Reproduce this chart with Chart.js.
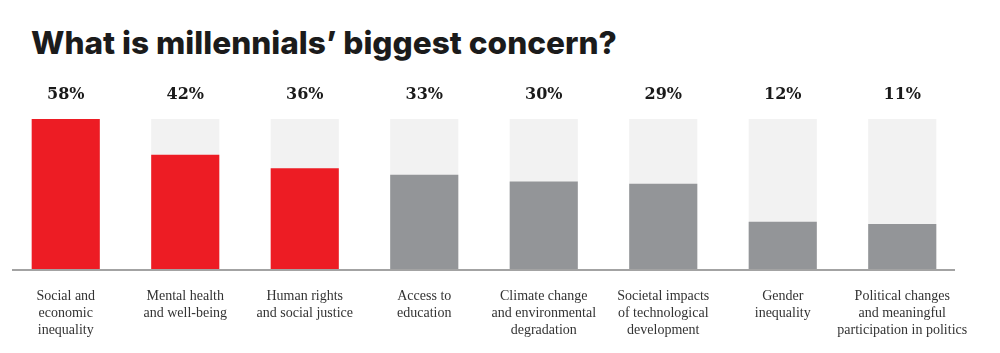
<!DOCTYPE html>
<html>
<head>
<meta charset="utf-8">
<script src="https://cdn.jsdelivr.net/npm/chart.js@4"></script>
<style>
  html, body { margin: 0; padding: 0; background: #fff; }
  #wrap { position: relative; width: 1000px; height: 353px; }
  #title {
    position: absolute; left: 31px; top: 27px; margin: 0;
    font-family: Inter, "Open Sans", sans-serif; font-weight: 800;
    font-size: 31.6px; line-height: 32px; color: #1b1b1b; letter-spacing: 0;
  }
  canvas { position: absolute; left: 0; top: 0; }
</style>
</head>
<body>
<div id="wrap">
  <h1 id="title">What is millennials’ biggest concern?</h1>
  <canvas id="chart" width="1000" height="353"></canvas>
</div>
<script>
// ------------------------
// DATA
// ------------------------
const categories = [
  ["Social and", "economic", "inequality"],
  ["Mental health", "and well-being"],
  ["Human rights", "and social justice"],
  ["Access to", "education"],
  ["Climate change", "and environmental", "degradation"],
  ["Societal impacts", "of technological", "development"],
  ["Gender", "inequality"],
  ["Political changes", "and meaningful", "participation in politics"]
];
const values = [58, 42, 36, 33, 30, 29, 12, 11];
const trackValues = [58, 58, 58, 58, 58, 58, 58, 58];
const barColors = ['#ed1c24', '#ed1c24', '#ed1c24', '#939598', '#939598', '#939598', '#939598', '#939598'];

// the bars don't start at zero in the original, base sits a bit below
const axisMin = -9.6;
const axisMax = 58;

// value labels above the columns
const valueLabels = {
  id: 'valueLabels',
  afterDatasetsDraw(chart) {
    const ctx = chart.ctx;
    const meta = chart.getDatasetMeta(0);
    ctx.save();
    ctx.fillStyle = '#1a1a1a';
    ctx.font = 'bold 16px "DejaVu Serif", serif';
    ctx.textAlign = 'center';
    ctx.textBaseline = 'middle';
    meta.data.forEach((bar, i) => {
      ctx.fillText(values[i] + '%', bar.x, chart.chartArea.top - 24);
    });
    ctx.restore();
  }
};

// grey base line
const baseLine = {
  id: 'baseLine',
  afterDatasetsDraw(chart) {
    const ctx = chart.ctx;
    const y = chart.scales.y.getPixelForValue(axisMin);
    ctx.save();
    ctx.strokeStyle = '#a3a3a3';
    ctx.lineWidth = 2;
    ctx.beginPath();
    ctx.moveTo(chart.chartArea.left + 6, y);
    ctx.lineTo(chart.chartArea.right - 7, y);
    ctx.stroke();
    ctx.restore();
  }
};

new Chart(document.getElementById('chart'), {
  type: 'bar',
  data: {
    labels: categories,
    datasets: [
      { data: values, backgroundColor: barColors, base: axisMin, order: 1,
        barPercentage: 0.57, categoryPercentage: 1 },
      { data: trackValues, backgroundColor: '#f2f2f2', base: axisMin, order: 2,
        barPercentage: 0.57, categoryPercentage: 1 }
    ]
  },
  plugins: [valueLabels, baseLine],
  options: {
    responsive: false,
    animation: false,
    layout: { padding: { left: 6, right: 38, top: 119, bottom: -4 } },
    plugins: { legend: { display: false }, tooltip: { enabled: false } },
    scales: {
      x: {
        stacked: true,
        grid: { display: false, drawTicks: false },
        border: { display: false },
        ticks: {
          color: '#333333',
          font: { family: '"Liberation Serif", serif', size: 14, lineHeight: '17px' },
          padding: 18, maxRotation: 0, autoSkip: false
        }
      },
      y: {
        display: false,
        min: axisMin, max: axisMax
      }
    }
  }
});
</script>
</body>
</html>
